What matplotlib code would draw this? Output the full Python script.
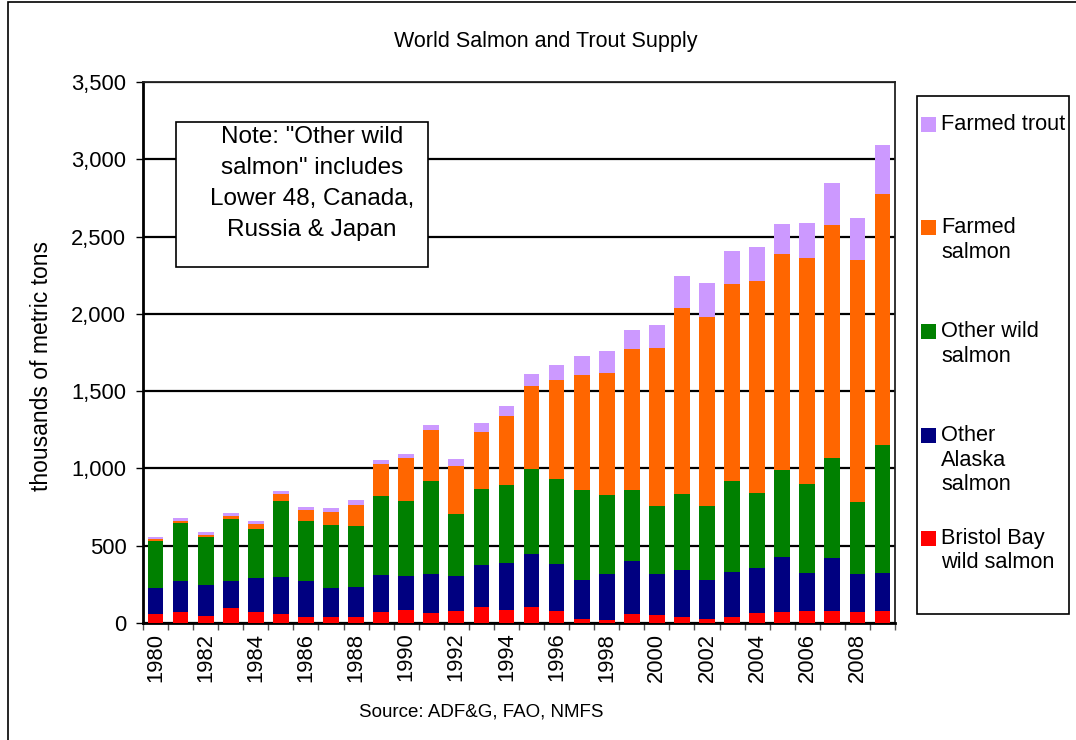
import matplotlib.pyplot as plt
import numpy as np
from matplotlib.patches import Rectangle
from matplotlib.ticker import FuncFormatter, FixedLocator

plt.rcParams['font.family'] = ['Liberation Sans', 'DejaVu Sans']

years = list(range(1980, 2010))

# thousands of metric tons, by source
bristol_bay = [61, 71, 45, 95, 69, 58, 41, 41, 39, 71,
               84, 65, 80, 106, 87, 106, 80, 26, 19, 58,
               52, 39, 24, 39, 65, 69, 76, 78, 71, 80]
other_alaska = [163, 199, 201, 179, 222, 238, 229, 183, 196, 239,
                223, 255, 227, 269, 299, 338, 302, 252, 296, 341,
                263, 304, 252, 289, 291, 358, 247, 345, 244, 243]
other_wild = [309, 377, 310, 397, 317, 491, 390, 410, 390, 510,
              482, 597, 398, 492, 507, 555, 548, 585, 511, 464,
              440, 494, 483, 593, 487, 561, 574, 642, 468, 828]
farmed_salmon = [8, 13, 16, 21, 32, 47, 71, 84, 138, 208,
                 278, 331, 313, 371, 446, 537, 644, 739, 789, 909,
                 1022, 1200, 1218, 1274, 1372, 1397, 1462, 1509, 1567, 1626]
farmed_trout = [13, 17, 15, 18, 18, 23, 22, 28, 35, 29,
                29, 31, 43, 54, 65, 75, 97, 123, 144, 121,
                150, 207, 220, 211, 215, 196, 231, 272, 268, 313]

series = [
    (bristol_bay, '#FF0000', ['Bristol Bay', 'wild salmon']),
    (other_alaska, '#000080', ['Other', 'Alaska', 'salmon']),
    (other_wild, '#008000', ['Other wild', 'salmon']),
    (farmed_salmon, '#FF6600', ['Farmed', 'salmon']),
    (farmed_trout, '#CC99FF', ['Farmed trout']),
]

W, H = 1076, 740
fig = plt.figure(figsize=(W / 100, H / 100), dpi=100)


def fx(px):
    return px / W


def fy(py):
    return 1 - py / H


ax = fig.add_axes([fx(143), fy(623), fx(895) - fx(143), fy(82) - fy(623)])

x = np.arange(len(years))
bottom = np.zeros(len(years))
for vals, color, _ in series:
    ax.bar(x, vals, width=0.63, bottom=bottom, color=color, edgecolor='none', zorder=3)
    bottom += np.array(vals)

ax.set_xlim(-0.5, len(years) - 0.5)
ax.set_ylim(0, 3500)
ax.set_yticks(np.arange(0, 3501, 500))
ax.yaxis.set_major_formatter(FuncFormatter(lambda v, p: f'{int(v):,}'))
ax.grid(axis='y', color='black', linewidth=1.6, zorder=1)

# year labels every other year, tick marks between categories
ax.set_xticks(x[::2])
ax.set_xticklabels([str(y) for y in years[::2]], rotation=90)
ax.xaxis.set_minor_locator(FixedLocator(np.arange(-0.5, len(years), 1)))
ax.tick_params(axis='x', which='major', length=0, pad=7, labelsize=15.8)
ax.tick_params(axis='x', which='minor', length=5, width=1, color='#555555')
ax.tick_params(axis='y', length=5, width=1, pad=7, labelsize=15.8)

for side in ['left', 'bottom']:
    ax.spines[side].set_linewidth(2)
for side in ['top', 'right']:
    ax.spines[side].set_linewidth(1.3)
    ax.spines[side].set_color('#222222')

fig.text(fx(42), fy(366), 'thousands of metric tons', rotation=90,
         ha='center', va='center', fontsize=16.5)
fig.text(fx(546), fy(42), 'World Salmon and Trout Supply',
         ha='center', va='center', fontsize=15.5)
fig.text(fx(481), fy(712), 'Source: ADF&G, FAO, NMFS',
         ha='center', va='center', fontsize=13.5)

# outer chart border
fig.add_artist(Rectangle((fx(8), fy(760)), fx(1090) - fx(8), fy(2) - fy(760),
                         transform=fig.transFigure, fill=False,
                         edgecolor='black', linewidth=1.2))

# note box
fig.add_artist(Rectangle((fx(176), fy(267)), fx(428) - fx(176), fy(122) - fy(267),
                         transform=fig.transFigure, facecolor='white',
                         edgecolor='black', linewidth=1.2, zorder=5))
note = ['Note: "Other wild', 'salmon" includes', 'Lower 48, Canada,', 'Russia & Japan']
for i, line in enumerate(note):
    fig.text(fx(312), fy(137 + 31 * i), line, ha='center', va='center',
             fontsize=17.5, zorder=6)

# legend
fig.add_artist(Rectangle((fx(917), fy(614)), fx(1069) - fx(917), fy(96) - fy(614),
                         transform=fig.transFigure, fill=False,
                         edgecolor='black', linewidth=1.2))
entry_y = [538.5, 435.5, 331.5, 227.5, 124.5]
for (vals, color, label), ey in zip(series, entry_y):
    fig.add_artist(Rectangle((fx(921), fy(ey + 7.5)), fx(15) - fx(0), fy(0) - fy(15),
                             transform=fig.transFigure, facecolor=color,
                             edgecolor='none'))
    for j, line in enumerate(label):
        fig.text(fx(941), fy(ey + 24.5 * j), line, ha='left', va='center',
                 fontsize=15.7)

fig.savefig('out.png', dpi=100)
